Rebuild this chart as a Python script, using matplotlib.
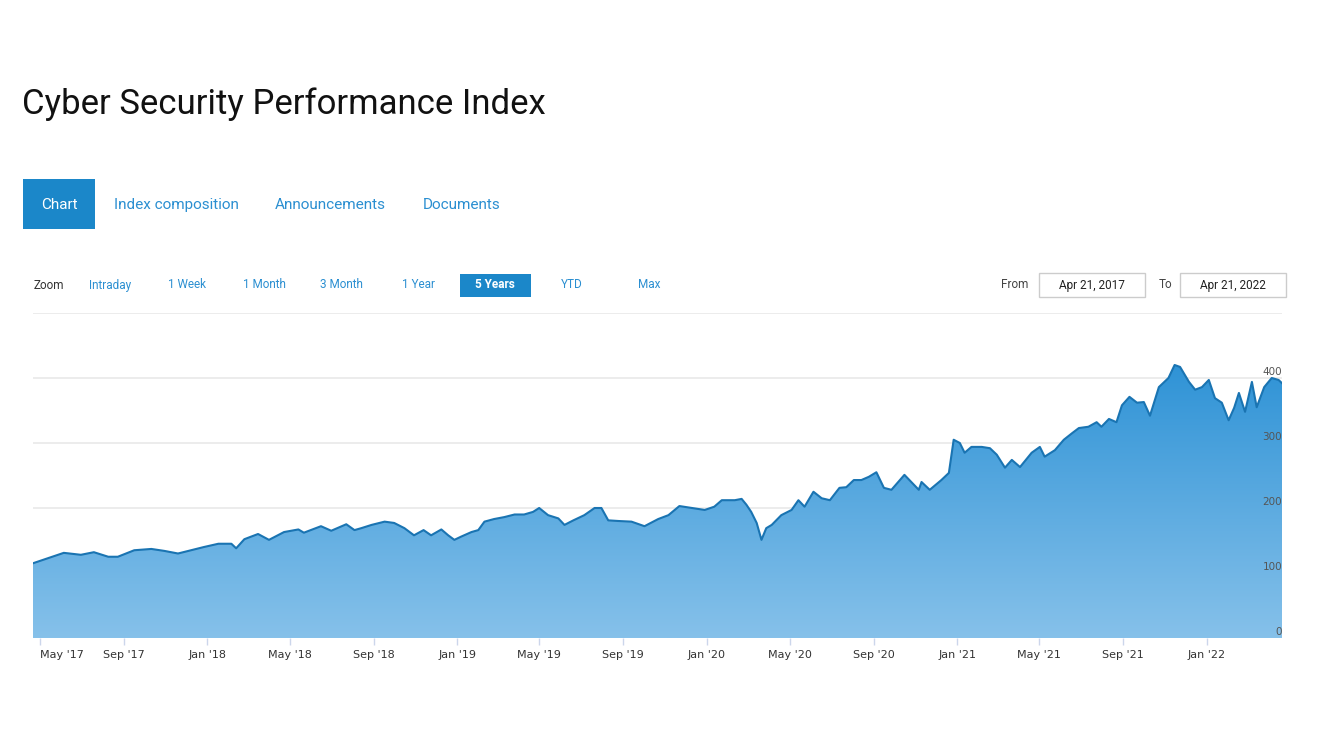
import matplotlib
matplotlib.use('Agg')
import matplotlib.pyplot as plt
import matplotlib.dates as mdates
from matplotlib.colors import LinearSegmentedColormap
from matplotlib.patches import Rectangle
import numpy as np
import datetime as dt

# index values (date, level)
dates = ['2017-04-21', '2017-06-05', '2017-06-30', '2017-07-19', '2017-08-09', '2017-08-23',
         '2017-09-16', '2017-10-11', '2017-10-30', '2017-11-19', '2017-12-08', '2017-12-27',
         '2018-01-17', '2018-02-05', '2018-02-12', '2018-02-24', '2018-03-16', '2018-04-01',
         '2018-04-23', '2018-05-14', '2018-05-22', '2018-06-16', '2018-07-01', '2018-07-23',
         '2018-08-04', '2018-08-14', '2018-08-29', '2018-09-17', '2018-10-01', '2018-10-16',
         '2018-10-30', '2018-11-13', '2018-11-24', '2018-12-09', '2018-12-19', '2018-12-28',
         '2019-01-07', '2019-01-22', '2019-02-01', '2019-02-10', '2019-02-24', '2019-03-11',
         '2019-03-26', '2019-04-09', '2019-04-22', '2019-05-01', '2019-05-14', '2019-05-29',
         '2019-06-07', '2019-06-20', '2019-07-06', '2019-07-21', '2019-07-31', '2019-08-10',
         '2019-08-25', '2019-09-13', '2019-10-02', '2019-10-22', '2019-11-06', '2019-11-22',
         '2019-12-10', '2019-12-29', '2020-01-12', '2020-01-23', '2020-02-11', '2020-02-21',
         '2020-02-28', '2020-03-06', '2020-03-14', '2020-03-21', '2020-03-28', '2020-04-05',
         '2020-04-19', '2020-05-04', '2020-05-14', '2020-05-23', '2020-06-05', '2020-06-17',
         '2020-06-29', '2020-07-13', '2020-07-23', '2020-08-03', '2020-08-14', '2020-08-25',
         '2020-09-05', '2020-09-16', '2020-09-27', '2020-10-16', '2020-11-06', '2020-11-10',
         '2020-11-22', '2020-12-09', '2020-12-20', '2020-12-27', '2021-01-05', '2021-01-12',
         '2021-01-22', '2021-02-06', '2021-02-18', '2021-02-28', '2021-03-12', '2021-03-22',
         '2021-04-03', '2021-04-20', '2021-05-02', '2021-05-09', '2021-05-24', '2021-06-06',
         '2021-06-18', '2021-06-28', '2021-07-12', '2021-07-24', '2021-07-31', '2021-08-11',
         '2021-08-22', '2021-08-30', '2021-09-10', '2021-09-21', '2021-10-01', '2021-10-10',
         '2021-10-23', '2021-11-06', '2021-11-15', '2021-11-23', '2021-12-06', '2021-12-15',
         '2021-12-25', '2022-01-04', '2022-01-13', '2022-01-23', '2022-02-02', '2022-02-10',
         '2022-02-17', '2022-02-26', '2022-03-08', '2022-03-15', '2022-03-26', '2022-04-06',
         '2022-04-16', '2022-04-21']
values = [115, 131, 128, 132, 125, 125,
          135, 137, 134, 130, 135, 140,
          145, 145, 138, 152, 160, 151,
          163, 167, 162, 172, 165, 175,
          166, 169, 174, 179, 177, 169,
          158, 166, 158, 167, 158, 151,
          156, 163, 166, 179, 183, 186,
          190, 190, 194, 200, 189, 184,
          174, 181, 189, 200, 200, 181,
          180, 179, 172, 183, 189, 203,
          200, 197, 202, 212, 212, 214,
          205, 194, 177, 151, 169, 174,
          189, 197, 212, 202, 225, 215,
          212, 231, 232, 243, 243, 248,
          255, 231, 228, 251, 228, 240,
          228, 243, 254, 305, 300, 285,
          294, 294, 292, 282, 262, 274,
          263, 285, 294, 279, 289, 305,
          315, 323, 325, 332, 325, 337,
          332, 358, 371, 362, 363, 342,
          386, 400, 420, 417, 394, 382,
          386, 397, 369, 362, 335, 354,
          377, 348, 394, 355, 386, 400,
          397, 392]

title = 'Cyber Security Performance Index'
tabs = ['Chart', 'Index composition', 'Announcements', 'Documents']
zoom_opts = ['Intraday', '1 Week', '1 Month', '3 Month', '1 Year', '5 Years', 'YTD', 'Max']
y_ticks = [0, 100, 200, 300, 400]
date_from = 'Apr 21, 2017'
date_to = 'Apr 21, 2022'

W, H = 1320, 742
fig = plt.figure(figsize=(W / 100, H / 100), dpi=100)
fig.patch.set_facecolor('white')


def fx(x):
    return x / W


def fy(y):
    return 1 - y / H


blue = '#1b87c9'
link = '#2b8fd1'

# title
fig.text(fx(22), fy(104), title, fontsize=25, color='#111111', va='center', ha='left',
         family=['Roboto', 'DejaVu Sans'])

# tabs
fig.patches.append(Rectangle((fx(23), fy(229)), fx(72), 50 / H, transform=fig.transFigure,
                             facecolor=blue, edgecolor='none'))
tab_x = [59, 176, 330, 462]
for t, x in zip(tabs, tab_x):
    fig.text(fx(x), fy(205), t, fontsize=11, ha='center', va='center',
             color='white' if t == 'Chart' else link, family=['Roboto', 'DejaVu Sans'])

# zoom row
fig.text(fx(34), fy(286), 'Zoom', fontsize=8.5, ha='left', va='center', color='#333333',
         family=['Roboto', 'DejaVu Sans'])
zoom_x = [110, 187, 264, 341, 418, 495, 572, 649]
for z, x in zip(zoom_opts, zoom_x):
    if z == '5 Years':
        fig.patches.append(Rectangle((fx(460), fy(297)), fx(71), 23 / H, transform=fig.transFigure,
                                     facecolor=blue, edgecolor='none'))
        fig.text(fx(x), fy(285), z, fontsize=8.5, ha='center', va='center', color='white',
                 weight='bold', family=['Roboto', 'DejaVu Sans'])
    else:
        fig.text(fx(x), fy(285), z, fontsize=8.5, ha='center', va='center', color=link,
                 family=['Roboto', 'DejaVu Sans'])

# date range inputs
fig.text(fx(1015), fy(285), 'From', fontsize=8.5, ha='center', va='center', color='#444444',
         family=['Roboto', 'DejaVu Sans'])
fig.text(fx(1165), fy(285), 'To', fontsize=8.5, ha='center', va='center', color='#444444',
         family=['Roboto', 'DejaVu Sans'])
for x0, label in [(1039, date_from), (1180, date_to)]:
    fig.patches.append(Rectangle((fx(x0), fy(297)), fx(106), 24 / H, transform=fig.transFigure,
                                 facecolor='white', edgecolor='#cccccc', lw=1))
    fig.text(fx(x0 + 53), fy(285), label, fontsize=8.5, ha='center', va='center',
             color='#222222', family=['Roboto', 'DejaVu Sans'])

# chart
ax = fig.add_axes([fx(33), fy(638), fx(1282 - 33), (638 - 313) / H])
x = mdates.date2num([dt.datetime.strptime(d, '%Y-%m-%d') for d in dates])
y = np.array(values, dtype=float)

ax.set_xlim(x[0], x[-1])
ax.set_ylim(0, 500)

for v in y_ticks[1:] + [500]:
    ax.axhline(v, color='#e9e9e9', lw=1.2, zorder=0)

poly = ax.fill_between(x, 0, y, facecolor='none', edgecolor='none')
cmap = LinearSegmentedColormap.from_list('g', ['#86c1ea', '#2f93d6'])
grad = np.linspace(0, 1, 256).reshape(-1, 1)
im = ax.imshow(grad, cmap=cmap, origin='lower', aspect='auto',
               extent=[x[0], x[-1], 0, max(values)], zorder=1)
im.set_clip_path(poly.get_paths()[0], transform=ax.transData)
ax.plot(x, y, color='#1a74b2', lw=1.5, zorder=3)

for v in y_ticks:
    ax.text(1.0, v + 9, str(v), transform=ax.get_yaxis_transform(), ha='right', va='center',
            fontsize=7.5, color='#555555', zorder=4)

ax.set_yticks([])
ax.xaxis.set_major_locator(mdates.MonthLocator(bymonth=[1, 5, 9]))
ax.xaxis.set_major_formatter(mdates.DateFormatter("%b '%y"))
ax.tick_params(axis='x', length=5, width=1, color='#ccd6eb', labelsize=8, labelcolor='#333333', pad=4)
for s in ax.spines.values():
    s.set_visible(False)
fig.canvas.draw()
lbls = ax.get_xticklabels()
if lbls:
    lbls[0].set_horizontalalignment('left')

fig.savefig('out.png', dpi=100)
